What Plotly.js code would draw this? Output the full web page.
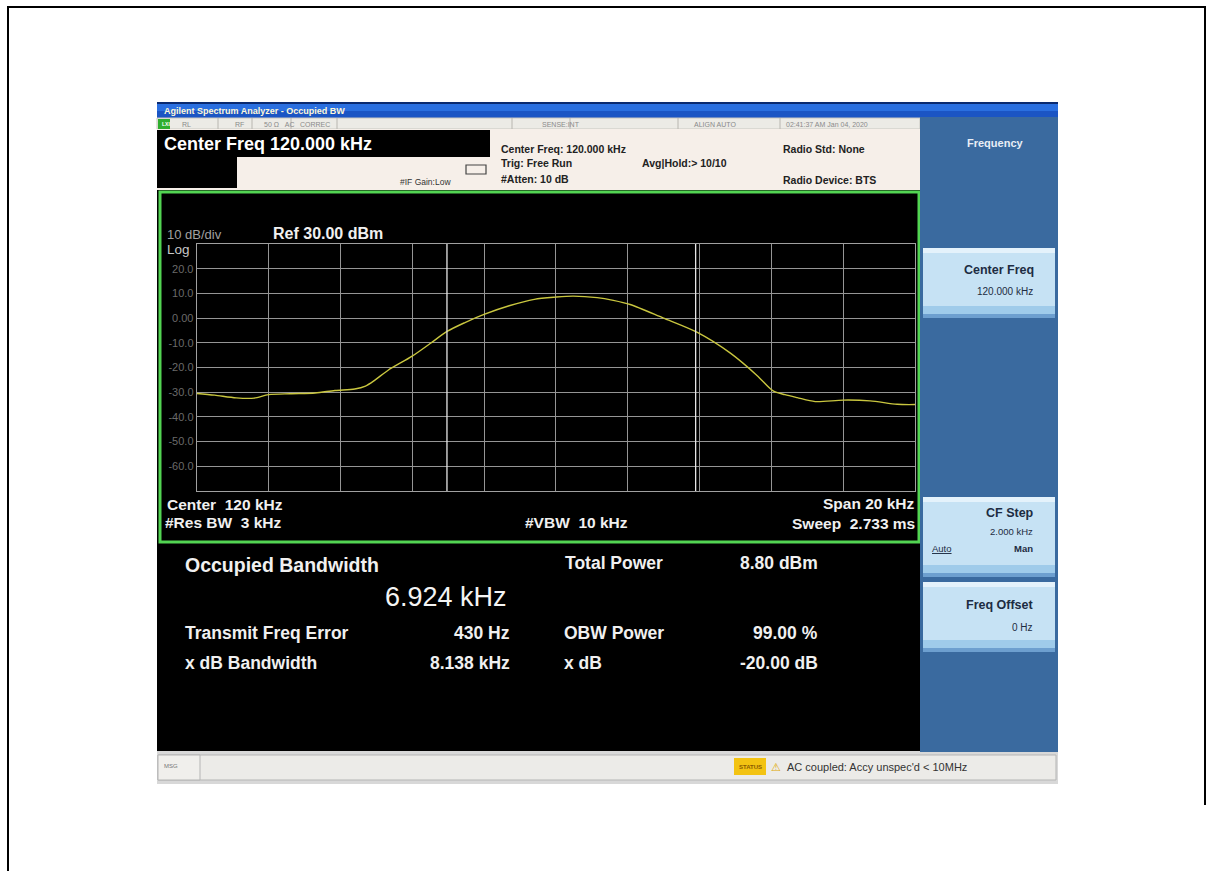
<!DOCTYPE html>
<html><head><meta charset="utf-8">
<script src="https://cdn.plot.ly/plotly-3.0.1.min.js"></script>
<style>html,body{margin:0;padding:0;background:#fff;}#chart{width:1212px;height:871px;}</style>
</head><body><div id="chart"></div>
<script>
// ---- data ----
const freqKHz = [110.0,110.5,111.1,111.6,112.0,112.6,113.3,113.85,114.4,114.7,114.97,115.33,116.0,116.5,116.97,117.47,118.0,118.7,119.4,120.0,120.48,121.15,121.6,122.07,122.98,123.94,124.86,125.6,126.05,126.38,126.72,127.22,128.0,128.75,129.5,130.0];
const levelDBm = [-30.5,-31.2,-32.3,-32.4,-31.0,-30.6,-30.3,-29.3,-28.7,-27.5,-25.0,-21.1,-15.4,-10.3,-5.4,-1.8,1.5,5.0,7.6,8.5,8.9,8.3,7.2,5.5,0.1,-5.8,-14.2,-23.2,-29.5,-31.0,-32.2,-33.8,-33.2,-33.5,-34.9,-35.0];
const yTickVals = [20,10,0,-10,-20,-30,-40,-50,-60];
const yTickText = ["20.0","10.0","0.00","-10.0","-20.0","-30.0","-40.0","-50.0","-60.0"];
const centerKHz = 120, spanKHz = 20, refDBm = 30, dbPerDiv = 10;
const obwKHz = 6.924, freqErrKHz = 0.430;

// ---- geometry helpers ----
const W = 1212, H = 871;
const px = x => x / W, py = y => 1 - y / H;
const shapes = [], ann = [];
function rect(x0,y0,x1,y1,fill,line,lw,layer){shapes.push({type:'rect',xref:'paper',yref:'paper',x0:px(x0),x1:px(x1),y0:py(y1),y1:py(y0),fillcolor:fill,line:{color:line||'rgba(0,0,0,0)',width:lw||0},layer:layer||'below'});}
function hline(x0,x1,y,color,w,layer){shapes.push({type:'line',xref:'paper',yref:'paper',x0:px(x0),x1:px(x1),y0:py(y),y1:py(y),line:{color:color,width:w},layer:layer||'below'});}
function vline(x,y0,y1,color,w,layer){shapes.push({type:'line',xref:'paper',yref:'paper',x0:px(x),x1:px(x),y0:py(y0),y1:py(y1),line:{color:color,width:w},layer:layer||'below'});}
function txt(x,y,t,size,color,anchor,bold,fam){ann.push({xref:'paper',yref:'paper',x:px(x),y:py(y),text:bold?('<b>'+t+'</b>'):t,showarrow:false,xanchor:anchor||'left',yanchor:'middle',font:{size:size,color:color,family:fam||'Liberation Sans, Arial, sans-serif'}});}

// page frame
hline(7,1206,7,'#000',2); vline(8,6,871,'#000',2); vline(1205,6,805,'#000',2);

// window title bar
rect(157,102,1058,104,'#0a2a70'); rect(157,104,1058,111,'#2a6fe0'); rect(157,111,1058,118,'#1b55c4');
txt(162,110.5,'Agilent Spectrum Analyzer - Occupied BW',9,'#fff8d8','left',true);
// status row
rect(157,118,920,129,'#ecebe6','#c9c7c0',1);
rect(158,119,170,129,'#2fae2f');
txt(160,124,'LXI',5,'#ffffff','left',true);
[[180,'RL'],[233,'RF'],[262,'50 Ω   AC'],[298,'CORREC'],[540,'SENSE:INT'],[692,'ALIGN AUTO'],[784,'02:41:37 AM Jan 04, 2020']].forEach(a=>txt(a[0],124,a[1],7,'#8a8a8a'));
[218,252,291,337,512,570,678,780].forEach(x=>vline(x,118,129,'#b8b6b0',1));
// info panel
rect(157,129,920,190,'#f6efe9');
rect(157,130,490,157,'#000000');
rect(157,157,237,188,'#000000');
txt(162,144,'Center Freq 120.000 kHz',18,'#ffffff','left',true);
txt(398,182,'#IF Gain:Low',8.5,'#333','left',false);
rect(466,165,486,174,'rgba(0,0,0,0)','#444',1.2);
txt(499,149,'Center Freq: 120.000 kHz',10.5,'#222','left',true);
txt(499,163,'Trig: Free Run',10.5,'#222','left',true);
txt(499,179,'#Atten: 10 dB',10.5,'#222','left',true);
txt(640,163,'Avg|Hold:> 10/10',10.5,'#222','left',true);
txt(781,149,'Radio Std: None',10.5,'#222','left',true);
txt(781,180,'Radio Device: BTS',10.5,'#222','left',true);
// graph panel
rect(157,190,922,545,'#000000');
rect(160,192,919,542,'rgba(0,0,0,0)','#52d452',3);
txt(165,234,'10 dB/div',13,'#a0a0a0');
txt(165,249,'Log',13.5,'#c8c8c8');
txt(271,233,'Ref 30.00 dBm',16,'#f0f0f0','left',true);
txt(165,504,'Center  120 kHz',15.5,'#f0f0f0','left',true);
txt(163,522,'#Res BW  3 kHz',15.5,'#f0f0f0','left',true);
txt(523,522,'#VBW  10 kHz',15.5,'#f0f0f0','left',true);
txt(917,503,'Span 20 kHz',15.5,'#f0f0f0','right',true);
txt(917,523,'Sweep  2.733 ms',15.5,'#f0f0f0','right',true);
// results panel
rect(157,545,920,751,'#000000');
txt(183,565,'Occupied Bandwidth',19.5,'#f0f0f0','left',true);
txt(509,597,'6.924 kHz',27,'#f4f4f4','right',false);
txt(183,633,'Transmit Freq Error',17.5,'#f0f0f0','left',true);
txt(512,633,'430 Hz',17.5,'#f0f0f0','right',true);
txt(183,663,'x dB Bandwidth',17.5,'#f0f0f0','left',true);
txt(512,663,'8.138 kHz',17.5,'#f0f0f0','right',true);
txt(563,563,'Total Power',17.5,'#f0f0f0','left',true);
txt(820,563,'8.80 dBm',17.5,'#f0f0f0','right',true);
txt(562,633,'OBW Power',17.5,'#f0f0f0','left',true);
txt(820,633,'99.00 %',17.5,'#f0f0f0','right',true);
txt(562,663,'x dB',17.5,'#f0f0f0','left',true);
txt(820,663,'-20.00 dB',17.5,'#f0f0f0','right',true);
// bottom status bar
rect(157,751,1058,784,'#d8d8d8');
rect(158,755,1056,780,'#ecebe8','#b5b5b5',1);
rect(158,755,200,780,'#f0efec','#b5b5b5',1);
txt(162,766,'MSG',6,'#777');
rect(734,758,766,775,'#f3c312');
txt(750,766.5,'STATUS',6,'#8a5a00','center',true);
txt(776,767,'⚠',11,'#e0a800','center');
txt(785,767,"AC coupled: Accy unspec'd < 10MHz",11,'#333');
// softkey panel
rect(920,117,1058,752,'#3a6a9f');
txt(995,143,'Frequency',11,'#e8eef6','center',true);
function key(y0,y1){rect(923,y0,1055,y0+5,'#e4f2fb');rect(923,y0+5,1055,y1-12,'#c6e2f4');rect(923,y1-12,1055,y1-4,'#9fcbea');rect(923,y1-4,1055,y1,'#6d9fcf');}
key(248,318);
txt(1036,270,'Center Freq',12.5,'#1d2c42','right',true);
txt(1035,292,'120.000 kHz',10,'#1d2c42','right',false);
key(497,577);
txt(1036,513,'CF Step',12.5,'#1d2c42','right',true);
txt(1035,531,'2.000 kHz',9.5,'#1d2c42','right',false);
txt(930,548,'<u>Auto</u>',9.5,'#1d2c42','left',false);
txt(1035,548,'Man',9.5,'#1d2c42','right',true);
key(582,652);
txt(1036,605,'Freq Offset',12.5,'#1d2c42','right',true);
txt(1035,627,'0 Hz',10,'#1d2c42','right',false);

// OBW bracket (data coordinates)
const obwL = centerKHz + freqErrKHz - obwKHz/2, obwR = centerKHz + freqErrKHz + obwKHz/2;
shapes.push({type:'line',xref:'x',yref:'y',x0:obwL,x1:obwL,y0:-70,y1:refDBm+1,line:{color:'#e6e6e6',width:1.3},layer:'above'});
shapes.push({type:'line',xref:'x',yref:'y',x0:obwR,x1:obwR,y0:-70,y1:refDBm+1,line:{color:'#e6e6e6',width:1.3},layer:'above'});
shapes.push({type:'line',xref:'x',yref:'y',x0:obwL,x1:obwR,y0:refDBm+1,y1:refDBm+1,line:{color:'#e6e6e6',width:1.3},layer:'above'});

const trace = {x:freqKHz,y:levelDBm,type:'scatter',mode:'lines',line:{color:'#c9c63f',width:1.4,shape:'spline',smoothing:0.8},hoverinfo:'skip'};
const layout = {
  width:W,height:H,margin:{l:0,r:0,t:0,b:0},
  paper_bgcolor:'#ffffff',plot_bgcolor:'rgba(0,0,0,0)',showlegend:false,
  xaxis:{domain:[px(196.7),px(915)],range:[centerKHz-spanKHz/2,centerKHz+spanKHz/2],dtick:2,tick0:110,showticklabels:false,showgrid:true,gridcolor:'#959595',gridwidth:1,zeroline:false,showline:true,linecolor:'#a0a0a0',mirror:true,ticks:'',fixedrange:true},
  yaxis:{domain:[py(491),py(244)],range:[refDBm-10*dbPerDiv,refDBm],tickvals:yTickVals,ticktext:yTickText,tickfont:{size:11,color:'#6a6a6a',family:'Liberation Sans, Arial'},ticklen:0,ticks:'',showgrid:true,gridcolor:'#959595',gridwidth:1,zeroline:false,showline:true,linecolor:'#a0a0a0',mirror:true,fixedrange:true},
  shapes:shapes,annotations:ann
};
Plotly.newPlot('chart',[trace],layout,{displayModeBar:false,staticPlot:true});
</script></body></html>
